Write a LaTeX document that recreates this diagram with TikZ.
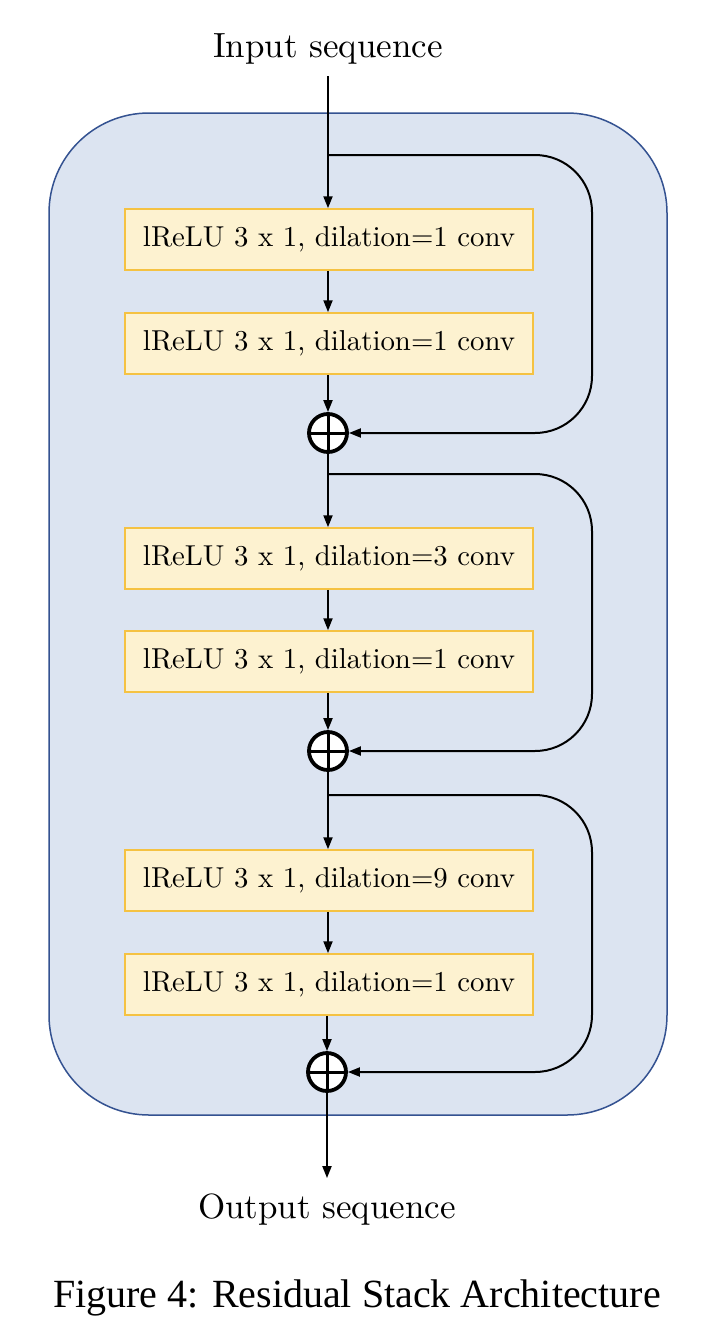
\documentclass[tikz,border=0pt]{standalone}
\usepackage{fontspec}
\newfontfamily\capfont{Liberation Serif}
\newfontfamily\lmten{lmroman10-regular}[Extension=.otf]
\usetikzlibrary{arrows.meta}
\definecolor{stackfill}{RGB}{220,228,241}
\definecolor{stackdraw}{RGB}{52,82,145}
\definecolor{convfill}{RGB}{253,242,208}
\definecolor{convdraw}{RGB}{245,194,66}
\tikzset{
  convbox/.style={draw=convdraw, fill=convfill, line width=1.5pt, minimum width=408pt, minimum height=61pt, inner sep=0pt, font=\lmten\fontsize{28.8}{34}\selectfont},
  addnode/.style={circle, draw=black, fill=white, line width=3.8pt, minimum size=38pt, inner sep=0pt,
    path picture={\draw[line width=3pt] (path picture bounding box.north) -- (path picture bounding box.south)
      (path picture bounding box.west) -- (path picture bounding box.east);}},
  flow/.style={line width=2pt, -{Triangle[length=12pt,width=9pt]}},
  skip/.style={flow, rounded corners=57pt},
  label/.style={font=\lmten\fontsize{35}{40}\selectfont, inner sep=0pt}
}
\begin{document}
\begin{tikzpicture}[x=1pt,y=-1pt]
\useasboundingbox (0,0) rectangle (712,1344);
\fill[white] (0,0) rectangle (712,1344);
\draw[stackdraw, fill=stackfill, line width=1.5pt, rounded corners=100pt] (49,113) rectangle (667,1115);

\node[label] (in) at (328,48.5) {Input sequence};
\node[label] (out) at (327,1210) {Output sequence};
\node[font=\capfont\fontsize{40}{46}\selectfont, inner sep=0pt] (cap) at (357,1298) {Figure 4: Residual Stack Architecture};

\node[convbox] (c1) at (329,239.5) {lReLU 3 x 1, dilation=1 conv};
\node[convbox] (c2) at (329,343.5) {lReLU 3 x 1, dilation=1 conv};
\node[addnode] (a1) at (328,433) {};
\node[convbox] (c3) at (329,558.5) {lReLU 3 x 1, dilation=3 conv};
\node[convbox] (c4) at (329,661.5) {lReLU 3 x 1, dilation=1 conv};
\node[addnode] (a2) at (328,751) {};
\node[convbox] (c5) at (329,880.5) {lReLU 3 x 1, dilation=9 conv};
\node[convbox] (c6) at (329,984.5) {lReLU 3 x 1, dilation=1 conv};
\node[addnode] (a3) at (327,1072) {};

\coordinate (s1) at (328,155);
\coordinate (s2) at (328,474);
\coordinate (s3) at (328,795);

\draw[flow, shorten <=12pt] (in.south) -- (in.south |- c1.north);
\draw[flow] (c1.south -| a1) -- (c2.north -| a1);
\draw[flow] (c2.south -| a1) -- (a1);
\draw[flow] (a1) -- (a1 |- c3.north);
\draw[flow] (c3.south -| a2) -- (c4.north -| a2);
\draw[flow] (c4.south -| a2) -- (a2);
\draw[flow] (a2) -- (a2 |- c5.north);
\draw[flow] (c5.south -| a2) -- (c6.north -| a2);
\draw[flow] (c6.south -| a3) -- (a3);
\draw[flow, shorten >=16pt] (a3) -- (out.north);

\draw[skip] (s1) -- (592,155) -- (592,433) -- (a1.east);
\draw[skip] (s2) -- (592,474) -- (592,751) -- (a2.east);
\draw[skip] (s3) -- (592,795) -- (592,1072) -- (a3.east);
\end{tikzpicture}
\end{document}
